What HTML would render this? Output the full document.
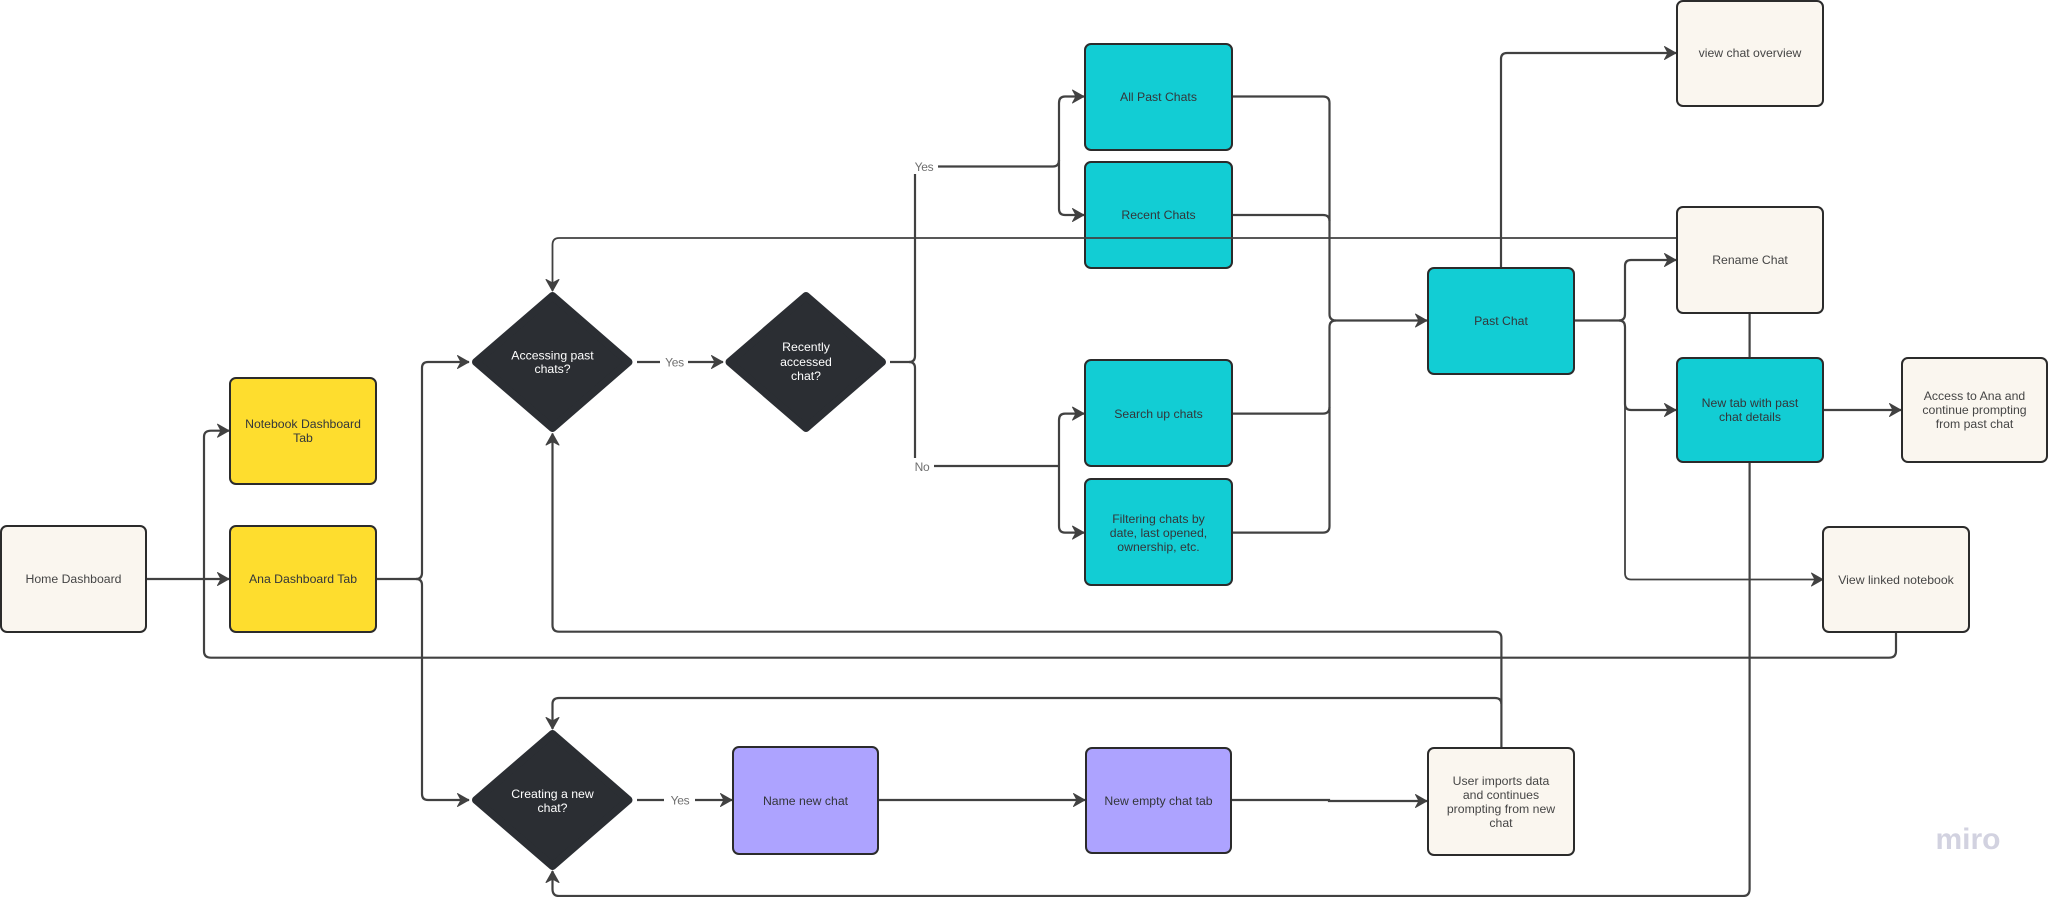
<!DOCTYPE html>
<html>
<head>
<meta charset="utf-8">
<style>
html,body{margin:0;padding:0;background:#fff}
svg{display:block}
text{font-family:"Liberation Sans",sans-serif;font-size:12.25px;text-anchor:middle;fill:#454545}
.d{fill:#33363a}
.w{fill:#fff}
.l{fill:#6f6f6f;font-size:12px;letter-spacing:-.3px}
.c{fill:none;stroke:#414141;stroke-width:2.2}
.t{fill:none;stroke:#414141;stroke-width:1.8}
.b{stroke:#2b2b2b;stroke-width:2}
</style>
</head>
<body>
<svg width="2048" height="897" viewBox="0 0 2048 897" xmlns="http://www.w3.org/2000/svg">
<defs>
<marker id="a" markerUnits="userSpaceOnUse" markerWidth="16" markerHeight="17" refX="13.5" refY="8" orient="auto">
<path d="M13.5 8 L2 1.5 L5.5 8 L2 14.5 Z" fill="#414141" stroke="#414141" stroke-width="1" stroke-linejoin="round"/>
</marker>
</defs>
<rect width="2048" height="897" fill="#fff"/>

<!-- connectors -->
<g class="c">
<path d="M146 579 H229" marker-end="url(#a)"/>
<path d="M1896 632 V651 Q1896 657.7 1889 657.7 H211 Q204 657.7 204 651 V437 Q204 430.7 211 430.7 H229" marker-end="url(#a)"/>
<path d="M376 579 H416 Q422 579 422 573 V368 Q422 362 428 362 H469" marker-end="url(#a)"/>
<path d="M416 579 Q422 579 422 585 V794 Q422 800 428 800 H469" marker-end="url(#a)"/>
<path d="M637 362 H660"/>
<path d="M688 362 H723" marker-end="url(#a)"/>
<path d="M890 362 H909 Q915 362 915 356 V174"/>
<path d="M909 362 Q915 362 915 368 V458"/>
<path d="M938 166.5 H1053 Q1059 166.5 1059 160 V103 Q1059 96.5 1065 96.5 H1084" marker-end="url(#a)"/>
<path d="M1059 160 V209 Q1059 215 1065 215 H1084" marker-end="url(#a)"/>
<path d="M934 466 H1059"/>
<path d="M1059 466 V420 Q1059 413.6 1065 413.6 H1084" marker-end="url(#a)"/>
<path d="M1059 466 V526 Q1059 532.6 1065 532.6 H1084" marker-end="url(#a)"/>
<path d="M1232 96.5 H1323 Q1329.5 96.5 1329.5 103 V314 Q1329.5 320.5 1336 320.5 H1427" marker-end="url(#a)"/>
<path d="M1232 215 H1323 Q1329.5 215 1329.5 221"/>
<path d="M1232 413.6 H1323 Q1329.5 413.6 1329.5 407 V327 Q1329.5 320.5 1336 320.5"/>
<path d="M1232 532.6 H1323 Q1329.5 532.6 1329.5 526 V407"/>
<path d="M1501 268 V59 Q1501 53 1507 53 H1676" marker-end="url(#a)"/>
<path d="M1574 320.5 H1619 Q1625 320.5 1625 314 V266 Q1625 260 1631 260 H1676" marker-end="url(#a)"/>
<path d="M1619 320.5 Q1625 320.5 1625 327 V404 Q1625 410 1631 410 H1676" marker-end="url(#a)"/>
<path d="M1625 327 V573 Q1625 579.5 1631 579.5 H1823" class="t" marker-end="url(#a)"/>
<path d="M1749.6 313 V358"/>
<path d="M1823 410 H1901" marker-end="url(#a)"/>
<path d="M1749.6 462 V889 Q1749.6 896 1743 896 H559 Q552.5 896 552.5 889 V871" marker-end="url(#a)"/>
<path d="M1501.4 748 V638 Q1501.4 631.7 1495 631.7 H559 Q552.5 631.7 552.5 625 V433.5" marker-end="url(#a)"/>
<path d="M1501.4 704 Q1501.4 698 1495 698 H559 Q552.5 698 552.5 704 V729" marker-end="url(#a)"/>
<path d="M637 800 H664"/>
<path d="M695 800 H732" marker-end="url(#a)"/>
<path d="M878 800 H1085" marker-end="url(#a)"/>
<path d="M1231 800 H1329 V801 H1427" marker-end="url(#a)"/>
</g>

<!-- nodes -->
<g class="b">
<rect x="1" y="526" width="145" height="106" rx="6" fill="#faf6ef"/>
<rect x="230" y="378" width="146" height="106" rx="6" fill="#fedd2e"/>
<rect x="230" y="526" width="146" height="106" rx="6" fill="#fedd2e"/>
<rect x="1085" y="44" width="147" height="106" rx="6" fill="#12cdd4"/>
<rect x="1085" y="162" width="147" height="106" rx="6" fill="#12cdd4"/>
<rect x="1085" y="360" width="147" height="106" rx="6" fill="#12cdd4"/>
<rect x="1085" y="479" width="147" height="106" rx="6" fill="#12cdd4"/>
<rect x="1428" y="268" width="146" height="106" rx="6" fill="#12cdd4"/>
<rect x="1677" y="1" width="146" height="105" rx="6" fill="#faf6ef"/>
<rect x="1677" y="207" width="146" height="106" rx="6" fill="#faf6ef"/>
<rect x="1677" y="358" width="146" height="104" rx="6" fill="#12cdd4"/>
<rect x="1902" y="358" width="145" height="104" rx="6" fill="#faf6ef"/>
<rect x="1823" y="527" width="146" height="105" rx="6" fill="#faf6ef"/>
<rect x="733" y="747" width="145" height="107" rx="6" fill="#ada3ff"/>
<rect x="1086" y="748" width="145" height="105" rx="6" fill="#ada3ff"/>
<rect x="1428" y="748" width="146" height="107" rx="6" fill="#faf6ef"/>
</g>
<g fill="#2b2e33" stroke="#2b2e33" stroke-width="8" stroke-linejoin="round">
<polygon points="552.5,296 628.5,362 552.5,428 476,362"/>
<polygon points="806,296 882,362 806,428 729.5,362"/>
<polygon points="552.5,734 628.5,800 552.5,866 476,800"/>
</g>

<!-- line crossing over nodes -->
<path class="t" d="M1676 238 H559 Q552.5 238 552.5 245 V291" marker-end="url(#a)"/>

<!-- labels -->
<text x="73.5" y="583">Home Dashboard</text>
<text x="303" y="428" class="d">Notebook Dashboard</text>
<text x="303" y="442" class="d">Tab</text>
<text x="303" y="583" class="d">Ana Dashboard Tab</text>
<text x="552.5" y="359.5" class="w">Accessing past</text>
<text x="552.5" y="373" class="w">chats?</text>
<text x="806" y="351" class="w">Recently</text>
<text x="806" y="366" class="w">accessed</text>
<text x="806" y="380" class="w">chat?</text>
<text x="552.5" y="798" class="w">Creating a new</text>
<text x="552.5" y="812" class="w">chat?</text>
<text x="674.5" y="366.5" class="l">Yes</text>
<text x="924" y="171" class="l">Yes</text>
<text x="922" y="471" class="l">No</text>
<text x="680" y="804.5" class="l">Yes</text>
<text x="1158.5" y="101" class="d">All Past Chats</text>
<text x="1158.5" y="219" class="d">Recent Chats</text>
<text x="1158.5" y="418" class="d">Search up chats</text>
<text x="1158.5" y="523" class="d">Filtering chats by</text>
<text x="1158.5" y="537" class="d">date, last opened,</text>
<text x="1158.5" y="551" class="d">ownership, etc.</text>
<text x="1501" y="325" class="d">Past Chat</text>
<text x="1750" y="57">view chat overview</text>
<text x="1750" y="264">Rename Chat</text>
<text x="1750" y="407" class="d">New tab with past</text>
<text x="1750" y="421" class="d">chat details</text>
<text x="1974.5" y="400">Access to Ana and</text>
<text x="1974.5" y="414">continue prompting</text>
<text x="1974.5" y="428">from past chat</text>
<text x="1896" y="584">View linked notebook</text>
<text x="805.5" y="805" class="d">Name new chat</text>
<text x="1158.5" y="805" class="d">New empty chat tab</text>
<text x="1501" y="785">User imports data</text>
<text x="1501" y="799">and continues</text>
<text x="1501" y="813">prompting from new</text>
<text x="1501" y="827">chat</text>
<text x="1968" y="849" style="font-size:30px;font-weight:bold;fill:#d2d2e0">miro</text>
</svg>
</body>
</html>
